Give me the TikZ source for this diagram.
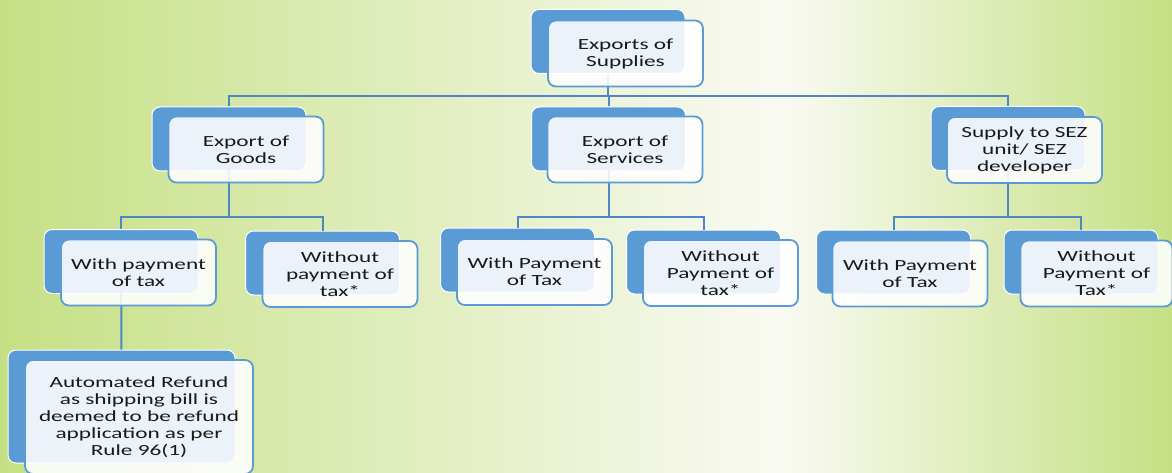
\documentclass[tikz,border=0pt]{standalone}
\usepackage{fontspec}
\setmainfont{Carlito}[FakeStretch=1.5]
\definecolor{bgG}{RGB}{197,224,132}
\definecolor{bgW}{RGB}{249,250,242}
\definecolor{boxblue}{RGB}{91,155,213}
\definecolor{connblue}{RGB}{79,134,198}
\definecolor{txt}{RGB}{25,25,25}
\tikzset{
  backbox/.style={rounded corners=8pt, fill=boxblue, draw=white, line width=1pt,
    minimum width=154pt, minimum height=64pt, inner sep=0pt},
  frontbox/.style={rounded corners=8pt, fill=white, fill opacity=0.88, text opacity=1,
    draw=boxblue, line width=1.8pt, minimum width=155pt, minimum height=66pt,
    inner sep=0pt, align=center, text=txt,
    font=\fontsize{15.5pt}{17pt}\selectfont},
  conn/.style={draw=connblue, line width=2pt}
}
\begin{document}
\begin{tikzpicture}[x=1pt,y=-1pt]
\useasboundingbox (0,0) rectangle (1172,473);
\shade[left color=bgG, right color=bgW] (0,0) rectangle (780,473);
\shade[left color=bgW, right color=bgG] (780,0) rectangle (1172,473);

% back boxes
\node[backbox] (rootB) at (608,41.5) {};
\node[backbox] (gB) at (229,139) {};
\node[backbox] (sB) at (608.5,139) {};
\node[backbox] (zB) at (1008,138.5) {};
\node[backbox] (g1B) at (121,261.5) {};
\node[backbox] (g2B) at (322.5,263) {};
\node[backbox, minimum width=227pt, minimum height=113pt] (g3B) at (121.5,406.5) {};
\node[backbox] (s1B) at (517.5,260) {};
\node[backbox] (s2B) at (703.5,262) {};
\node[backbox] (z1B) at (893.5,262) {};
\node[backbox] (z2B) at (1081,262) {};

% connectors
\coordinate (j0) at (608,96);
\coordinate (jg) at (229,217);
\coordinate (js) at (608.5,217);
\coordinate (jz) at (1008,217);
\draw[conn] (rootB.south) -- (j0) -| (gB.north);
\draw[conn] (j0) -| (sB.north);
\draw[conn] (j0) -| (zB.north);
\draw[conn] (gB.center) -- (jg) -| (g1B.north);
\draw[conn] (jg) -| (g2B.north);
\draw[conn] (sB.center) -- (js) -| (s1B.north);
\draw[conn] (js) -| (s2B.north);
\draw[conn] (zB.center) -- (jz) -| (z1B.north);
\draw[conn] (jz) -| (z2B.north);
\draw[conn] (g1B.center) -- (g3B.north);

% front boxes
\node[frontbox] (rootF) at (625.5,53.5) {Exports of\\Supplies};
\node[frontbox] (gF) at (246,149.5) {Export of\\Goods};
\node[frontbox] (sF) at (625,149.5) {Export of\\Services};
\node[frontbox] (zF) at (1024.5,150) {Supply to SEZ\\unit/ SEZ\\developer};
\node[frontbox] (g1F) at (138.5,272.5) {With payment\\of tax};
\node[frontbox] (g2F) at (340,274) {Without\\payment of\\tax*};
\node[frontbox, minimum width=228pt, minimum height=114pt] (g3F) at (139,417)
  {Automated Refund\\as shipping bill is\\deemed to be refund\\application as per\\Rule 96(1)};
\node[frontbox] (s1F) at (534.5,272) {With Payment\\of Tax};
\node[frontbox] (s2F) at (720.5,273) {Without\\Payment of\\tax*};
\node[frontbox] (z1F) at (910,273.5) {With Payment\\of Tax};
\node[frontbox, minimum width=152pt] (z2F) at (1096.5,273.5) {Without\\Payment of\\Tax*};
\end{tikzpicture}
\end{document}
